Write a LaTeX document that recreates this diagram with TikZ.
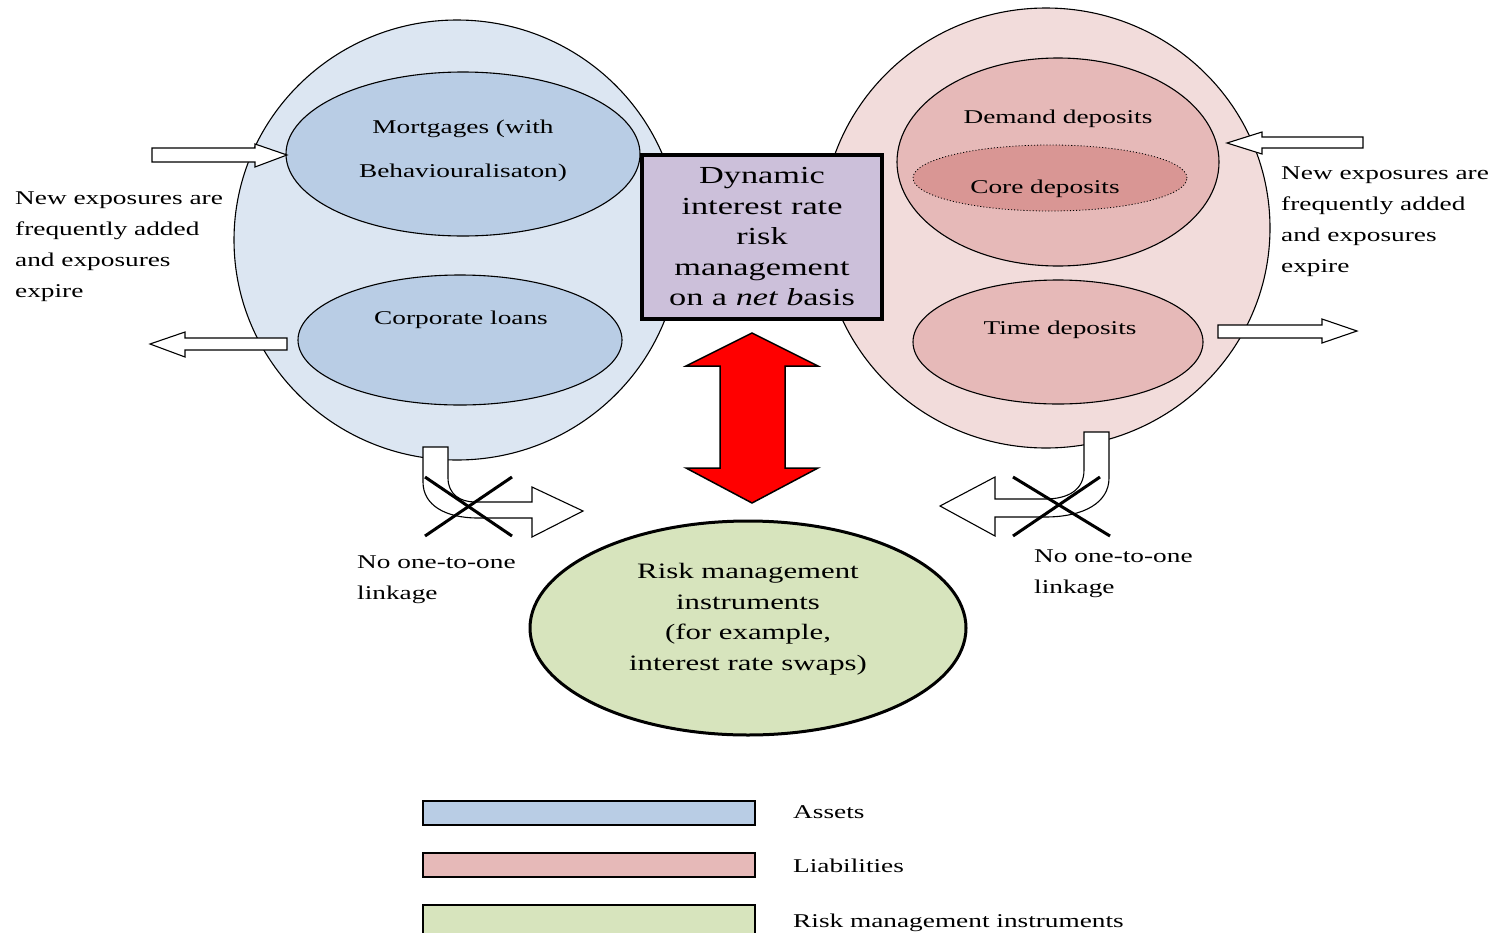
\documentclass[tikz,border=0pt]{standalone}
\usepackage{fontspec}
\setmainfont{Liberation Serif}[FakeStretch=1.4]
\usetikzlibrary{shapes.geometric}
\definecolor{assetout}{HTML}{DCE6F2}
\definecolor{assetin}{HTML}{B9CDE5}
\definecolor{liabout}{HTML}{F2DCDB}
\definecolor{liabin}{HTML}{E6B9B8}
\definecolor{coredep}{HTML}{D99694}
\definecolor{boxfill}{HTML}{CCC0DA}
\definecolor{riskfill}{HTML}{D7E4BD}
\definecolor{arrowred}{HTML}{FF0000}
\begin{document}
\begin{tikzpicture}[x=1pt,y=-1pt,
  txt/.style={font=\fontsize{19.5}{30.7}\selectfont, inner sep=0pt},
  ell/.style={ellipse, draw=black, line width=1.1pt, inner sep=0pt},
  blockarrow/.style={draw=black, fill=white, line width=1.1pt, line join=miter},
  crossline/.style={line width=3pt},
  legbox/.style={draw=black, line width=1.5pt, minimum width=332pt, inner sep=0pt}
]
\clip (0,0) rectangle (1494,932);
\path[use as bounding box] (0,0) rectangle (1494,932);

% outer ellipses
\node[ell, fill=assetout, minimum width=446pt, minimum height=440pt] (assets) at (457,240) {};
\node[ell, fill=liabout, minimum width=448pt, minimum height=440pt] (liabs) at (1046,228) {};

% inner ellipses
\node[ell, fill=assetin, minimum width=354pt, minimum height=164pt] (mort) at (463,154) {};
\node[ell, fill=assetin, minimum width=324pt, minimum height=130pt] (corp) at (460,340) {};
\node[ell, fill=liabin, minimum width=322pt, minimum height=208pt] (demand) at (1058,162) {};
\node[ell, fill=coredep, dotted, line width=0.8pt, minimum width=274pt, minimum height=66pt] (core) at (1050,178) {};
\node[ell, fill=liabin, minimum width=290pt, minimum height=124pt] (time) at (1058,342) {};

\node[txt, anchor=base] (mortA) at (463,133) {Mortgages (with};
\node[txt, anchor=base] (mortB) at (463,177) {Behaviouralisaton)};
\node[txt, anchor=base] (corpT) at (461,324) {Corporate loans};
\node[txt, anchor=base] (demT) at (1058,123) {Demand deposits};
\node[txt, anchor=base] (coreT) at (1045,193) {Core deposits};
\node[txt, anchor=base] (timeT) at (1060,334) {Time deposits};

% straight block arrows
\draw[blockarrow] (152,148) -- (255,148) -- (255,144) -- (287,155) -- (255,167) -- (255,162) -- (152,162) -- cycle;
\draw[blockarrow] (287,338) -- (185,338) -- (185,332) -- (150,344) -- (185,357) -- (185,350) -- (287,350) -- cycle;
\draw[blockarrow] (1363,137) -- (1262,137) -- (1262,132) -- (1227,143) -- (1262,154) -- (1262,148) -- (1363,148) -- cycle;
\draw[blockarrow] (1218,325) -- (1322,325) -- (1322,319) -- (1357,331) -- (1322,343) -- (1322,338) -- (1218,338) -- cycle;

% side texts
\node[txt, align=left, anchor=north west] (newL) at (15,192) {New exposures are\\frequently added\\and exposures\\expire};
\node[txt, align=left, anchor=north west] (newR) at (1281,167) {New exposures are\\frequently added\\and exposures\\expire};

% central box
\node[draw=black, line width=4pt, fill=boxfill, minimum width=240pt, minimum height=164pt, inner sep=0pt, align=center, font=\fontsize{24.5}{30.5}\selectfont] (dyn) at (762,237) {Dynamic\\interest rate\\risk\\management\\on a \textit{net b}asis};

% red double arrow
\draw[draw=black, line width=1.5pt, fill=arrowred, line join=miter] (752,333) -- (818,366) -- (785,366) -- (785,468) -- (818,468) -- (752,503) -- (686,468) -- (720,468) -- (720,366) -- (686,366) -- cycle;

% curved arrows
\draw[blockarrow] (423,447) -- (448,447) -- (448,478) .. controls (448,494) and (460,502) .. (475,502) -- (532,502) -- (532,487) -- (583,511) -- (532,537) -- (532,518) -- (478,518) .. controls (445,518) and (423,505) .. (423,482) -- cycle;
\draw[blockarrow] (1109,432) -- (1084,432) -- (1084,470) .. controls (1084,490) and (1068,499) .. (1045,499) -- (995,499) -- (995,477) -- (940,506) -- (995,536) -- (995,517) -- (1045,517) .. controls (1085,517) and (1109,502) .. (1109,478) -- cycle;

% crosses
\draw[crossline] (425,477) -- (512,536);
\draw[crossline] (512,477) -- (425,536);
\draw[crossline] (1013,477) -- (1110,536);
\draw[crossline] (1100,477) -- (1013,536);

\node[txt, align=left, anchor=north west] (linkL) at (357,556) {No one-to-one\\linkage};
\node[txt, align=left, anchor=north west] (linkR) at (1034,550) {No one-to-one\\linkage};

% risk management instruments
\node[ell, fill=riskfill, line width=3pt, minimum width=436pt, minimum height=214pt] (risk) at (748,628) {};
\node[font=\fontsize{22}{30.5}\selectfont, align=center, inner sep=0pt] (riskT) at (748,619) {Risk management\\instruments\\(for example,\\interest rate swaps)};

% legend
\node[legbox, fill=assetin, minimum height=24pt] (legA) at (589,813) {};
\node[legbox, fill=liabin, minimum height=24pt] (legL) at (589,865) {};
\node[legbox, fill=riskfill, minimum height=40pt] (legR) at (589,925) {};
\node[txt, anchor=base west] (legAT) at (793,818) {Assets};
\node[txt, anchor=base west] (legLT) at (793,872) {Liabilities};
\node[txt, anchor=base west] (legRT) at (793,927) {Risk management instruments};
\end{tikzpicture}
\end{document}
